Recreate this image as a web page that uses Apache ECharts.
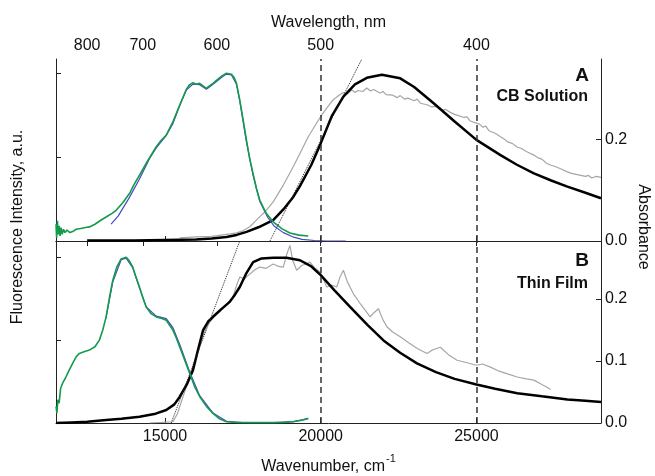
<!DOCTYPE html>
<html>
<head>
<meta charset="utf-8">
<title>Fluorescence and absorbance</title>
<script src="https://cdn.jsdelivr.net/npm/echarts@6/dist/echarts.min.js"></script>
<style>
  html, body { margin: 0; padding: 0; background: #fff; }
  #main { width: 655px; height: 476px; }
</style>
</head>
<body>
<div id="main"></div>
<script>
// wavenumber range and tick values
var wnMin = 11500, wnMax = 29000;
var wnTicks = [15000, 20000, 25000];
var nmTicks = [800, 700, 600, 500, 400];
var dashX = [20000, 25000];

// panel A: CB solution  ([wavenumber, value])
var greenA = [[11500,0.10],[11520,0.02],[11545,0.12],[11570,0.04],[11600,0.09],[11630,0.03],[11660,0.08],[11700,0.04],[11740,0.07],[11790,0.05],[11850,0.065],[11950,0.05],[12034,0.056],[12150,0.07],[12300,0.075],[12450,0.08],[12571,0.084],[12750,0.10],[12950,0.125],[13109,0.143],[13300,0.165],[13431,0.183],[13650,0.23],[13859,0.283],[14000,0.335],[14181,0.392],[14450,0.48],[14719,0.562],[14880,0.60],[15041,0.631],[15254,0.711],[15450,0.80],[15685,0.904],[15780,0.93],[15898,0.944],[16000,0.935],[16113,0.940],[16220,0.925],[16329,0.910],[16430,0.925],[16542,0.940],[16700,0.965],[16832,0.984],[16973,1.0],[17134,0.994],[17220,0.975],[17295,0.940],[17401,0.84],[17510,0.72],[17617,0.60],[17720,0.49],[17830,0.40],[17940,0.31],[18045,0.243],[18250,0.165],[18474,0.114],[18750,0.074],[19011,0.048],[19300,0.035],[19600,0.030]];
var blueA = [[13270,0.10],[13500,0.15],[13859,0.26],[14181,0.37],[14500,0.49],[14719,0.555],[15041,0.63],[15254,0.70],[15500,0.82],[15685,0.90],[15898,0.935],[16113,0.932],[16329,0.905],[16542,0.935],[16832,0.978],[16973,0.995],[17134,0.99],[17295,0.935],[17401,0.835],[17617,0.59],[17830,0.39],[18045,0.235],[18300,0.14],[18500,0.09],[18800,0.05],[19100,0.025],[19400,0.01],[19800,0.003],[20200,0.0],[20800,0.0]];
var blackA = [[12500,0.001],[14000,0.001],[15000,0.002],[16000,0.003],[16500,0.005],[16973,0.008],[17300,0.012],[17617,0.018],[18000,0.027],[18474,0.041],[18800,0.062],[19100,0.085],[19333,0.108],[19700,0.15],[20000,0.192],[20350,0.245],[20728,0.284],[21100,0.308],[21481,0.321],[21964,0.327],[22553,0.320],[23000,0.303],[23626,0.271],[24300,0.235],[25000,0.199],[25773,0.169],[26300,0.150],[26846,0.133],[27400,0.119],[27921,0.107],[28500,0.095],[29000,0.084]];
var grayA = [[15470,0.006],[16000,0.008],[16500,0.009],[16854,0.012],[17100,0.014],[17300,0.016],[17500,0.02],[17724,0.028],[18000,0.045],[18250,0.06],[18474,0.077],[18800,0.11],[19118,0.146],[19333,0.172],[19600,0.205],[19871,0.232],[20000,0.245],[20200,0.262],[20406,0.278],[20600,0.287],[20728,0.292],[20850,0.289],[21000,0.297],[21100,0.292],[21200,0.296],[21350,0.294],[21481,0.301],[21600,0.295],[21700,0.298],[21900,0.291],[22000,0.294],[22100,0.288],[22300,0.287],[22450,0.282],[22553,0.286],[22700,0.279],[22800,0.281],[23000,0.276],[23100,0.279],[23200,0.271],[23413,0.268],[23550,0.264],[23700,0.265],[23900,0.257],[24000,0.259],[24163,0.253],[24300,0.249],[24400,0.247],[24600,0.243],[24700,0.244],[24800,0.236],[25000,0.232],[25100,0.230],[25200,0.224],[25300,0.226],[25400,0.217],[25600,0.212],[25773,0.205],[25900,0.200],[26000,0.195],[26150,0.192],[26300,0.185],[26450,0.182],[26600,0.176],[26846,0.169],[27000,0.163],[27100,0.161],[27250,0.153],[27400,0.149],[27550,0.146],[27700,0.142],[27921,0.136],[28050,0.133],[28200,0.131],[28350,0.129],[28500,0.127],[28600,0.129],[28700,0.124],[28850,0.127],[29000,0.125]];
var tangentA = [[18370,0],[21320,0.358]];

// panel B: thin film
var greenB = [[11500,0.10],[11530,0.06],[11560,0.14],[11600,0.12],[11650,0.21],[11712,0.24],[11800,0.27],[11900,0.31],[12034,0.36],[12150,0.40],[12249,0.42],[12400,0.43],[12571,0.44],[12750,0.46],[12893,0.50],[13000,0.56],[13109,0.64],[13220,0.76],[13322,0.86],[13450,0.94],[13592,0.99],[13680,0.995],[13753,1.0],[13850,0.98],[13966,0.94],[14070,0.88],[14181,0.82],[14300,0.75],[14397,0.70],[14550,0.66],[14719,0.64],[14900,0.63],[15041,0.62],[15150,0.59],[15254,0.56],[15370,0.51],[15470,0.46],[15630,0.38],[15791,0.30],[15950,0.22],[16113,0.16],[16330,0.10],[16542,0.058],[16750,0.025],[16973,0.008],[17300,0.003],[17800,0.002],[18474,0.002],[18800,0.004],[19118,0.008],[19400,0.017],[19600,0.028]];
var blueB = [[13100,0.63],[13322,0.85],[13592,0.985],[13753,0.995],[13966,0.935],[14181,0.815],[14397,0.70],[14719,0.645],[15041,0.63],[15254,0.575],[15470,0.475],[15791,0.31],[16113,0.165],[16542,0.06],[16973,0.01],[17500,0.002],[18474,0.002],[19118,0.008],[19600,0.027]];
var blackB = [[11500,0.0],[12000,0.001],[12500,0.002],[13109,0.005],[13600,0.007],[14181,0.010],[14700,0.015],[15041,0.021],[15300,0.030],[15470,0.042],[15700,0.062],[15898,0.085],[16060,0.118],[16220,0.149],[16380,0.163],[16542,0.171],[16800,0.183],[17079,0.195],[17250,0.207],[17401,0.219],[17600,0.24],[17830,0.259],[18100,0.265],[18474,0.266],[18900,0.266],[19333,0.262],[19700,0.252],[20000,0.238],[20450,0.213],[20943,0.187],[21500,0.158],[22016,0.133],[22550,0.113],[23091,0.096],[23700,0.082],[24300,0.071],[25000,0.062],[25600,0.055],[26311,0.048],[27100,0.043],[27921,0.038],[28500,0.036],[29000,0.034]];
var grayB = [[14503,0.0],[14900,0.001],[15254,0.002],[15400,0.015],[15576,0.042],[15800,0.075],[16007,0.106],[16170,0.132],[16329,0.155],[16550,0.170],[16757,0.179],[16950,0.19],[17186,0.203],[17300,0.222],[17401,0.235],[17550,0.232],[17724,0.240],[17900,0.247],[18045,0.251],[18250,0.249],[18474,0.256],[18650,0.252],[18800,0.251],[18900,0.27],[19011,0.286],[19100,0.262],[19227,0.246],[19400,0.254],[19549,0.256],[19655,0.259],[19800,0.25],[19977,0.243],[20100,0.23],[20193,0.219],[20350,0.222],[20515,0.219],[20620,0.235],[20728,0.246],[20850,0.228],[21050,0.208],[21300,0.19],[21587,0.171],[21720,0.178],[21855,0.184],[22000,0.166],[22125,0.155],[22300,0.147],[22553,0.139],[22800,0.13],[23100,0.12],[23413,0.112],[23600,0.118],[23842,0.122],[24100,0.11],[24379,0.101],[24700,0.097],[25000,0.093],[25200,0.095],[25451,0.090],[25700,0.084],[26000,0.079],[26311,0.074],[26600,0.071],[26846,0.069],[27100,0.062],[27250,0.058],[27384,0.054]];
var tangentB = [[15200,0],[17401,0.293]];

var font = "'Liberation Sans', Arial, sans-serif";
var axisColor = '#222';

var myChart = echarts.init(document.getElementById('main'));

function yAx(grid, pos, max, labelVals, tickVals, showLabel) {
  return {
    type: 'value', gridIndex: grid, position: pos, min: 0, max: max,
    splitLine: { show: false },
    axisLine: { show: true, lineStyle: { color: axisColor, width: 1 } },
    axisTick: { show: true, inside: true, length: 5, customValues: tickVals, lineStyle: { color: axisColor } },
    axisLabel: {
      show: showLabel, customValues: labelVals, margin: 4,
      color: '#111', fontSize: 16, fontFamily: font,
      formatter: function (v) { return v.toFixed(1); }
    }
  };
}

function line(name, data, xi, yi, color, width, z, type) {
  return {
    name: name, type: 'line', data: data, xAxisIndex: xi, yAxisIndex: yi,
    showSymbol: false, symbol: 'none', z: z, silent: true,
    lineStyle: { color: color, width: width, type: type || 'solid' }
  };
}

function dashes() {
  return {
    silent: true, symbol: ['none', 'none'], label: { show: false },
    lineStyle: { color: '#333', width: 1.5, type: [6, 4] },
    data: dashX.map(function (v) { return { xAxis: v }; })
  };
}

var labelStyle = { fill: '#111', fontFamily: font, fontWeight: 'bold', align: 'right', verticalAlign: 'middle' };

var option = {
  backgroundColor: '#fff',
  animation: false,
  grid: [
    { left: 56, right: 54, top: 59, height: 182 },
    { left: 56, right: 54, top: 241, height: 182 }
  ],
  xAxis: [
    { // wavelength, top
      type: 'value', gridIndex: 0, position: 'top', min: wnMin, max: wnMax,
      name: 'Wavelength, nm', nameLocation: 'middle', nameGap: 28,
      nameTextStyle: { color: '#111', fontSize: 16, fontFamily: font },
      splitLine: { show: false },
      axisLine: { lineStyle: { color: axisColor, width: 1 } },
      axisTick: { inside: true, length: 5, customValues: nmTicks.map(function (n) { return 1e7 / n; }), lineStyle: { color: axisColor } },
      axisLabel: {
        customValues: nmTicks.map(function (n) { return 1e7 / n; }), margin: 5,
        color: '#111', fontSize: 16, fontFamily: font,
        formatter: function (v) { return String(Math.round(1e7 / v)); }
      }
    },
    { // divider line
      type: 'value', gridIndex: 0, position: 'bottom', min: wnMin, max: wnMax,
      splitLine: { show: false },
      axisLine: { lineStyle: { color: axisColor, width: 1 } },
      axisTick: { inside: true, length: 5, customValues: wnTicks, lineStyle: { color: axisColor } },
      axisLabel: { show: false }
    },
    { // wavenumber, bottom
      type: 'value', gridIndex: 1, position: 'bottom', min: wnMin, max: wnMax,
      name: '{a|Wavenumber, cm}{s|-1}', nameLocation: 'middle', nameGap: 30,
      nameTextStyle: {
        rich: {
          a: { color: '#111', fontSize: 16, fontFamily: font, verticalAlign: 'bottom', lineHeight: 22 },
          s: { color: '#111', fontSize: 11, fontFamily: font, verticalAlign: 'top', lineHeight: 22, padding: [0, 0, 10, 1] }
        }
      },
      splitLine: { show: false },
      axisLine: { lineStyle: { color: axisColor, width: 1 } },
      axisTick: { inside: true, length: 5, customValues: wnTicks, lineStyle: { color: axisColor } },
      axisLabel: {
        customValues: wnTicks, margin: 6, color: '#111', fontSize: 16, fontFamily: font,
        formatter: function (v) { return String(v); }
      }
    }
  ],
  yAxis: [
    yAx(0, 'left', 1.085, [], [0.5, 1.0], false),
    yAx(0, 'right', 0.358, [0, 0.2], [0.2], true),
    yAx(1, 'left', 1.098, [], [0.5, 1.0], false),
    yAx(1, 'right', 0.293, [0, 0.1, 0.2], [0.1, 0.2], true)
  ],
  graphic: [
    { type: 'text', x: 18, y: 227, rotation: Math.PI / 2, style: { text: 'Fluorescence Intensity, a.u.', fill: '#111', fontSize: 16, fontFamily: font, align: 'center', verticalAlign: 'middle' } },
    { type: 'text', x: 643, y: 227, rotation: -Math.PI / 2, style: { text: 'Absorbance', fill: '#111', fontSize: 16, fontFamily: font, align: 'center', verticalAlign: 'middle' } },
    { type: 'text', x: 589, y: 76, style: Object.assign({ text: 'A', fontSize: 19 }, labelStyle) },
    { type: 'text', x: 588, y: 97, style: Object.assign({ text: 'CB Solution', fontSize: 16 }, labelStyle) },
    { type: 'text', x: 589, y: 261, style: Object.assign({ text: 'B', fontSize: 19 }, labelStyle) },
    { type: 'text', x: 588, y: 284, style: Object.assign({ text: 'Thin Film', fontSize: 16 }, labelStyle) }
  ],
  series: [
    line('grayA', grayA, 0, 1, '#a6a6a6', 1.2, 2),
    Object.assign(line('blackA', blackA, 0, 1, '#000', 2.5, 3), { markLine: dashes() }),
    line('blueA', blueA, 0, 0, '#4848c0', 1.2, 4),
    line('greenA', greenA, 0, 0, '#139a4c', 1.6, 5),
    line('tangentA', tangentA, 0, 1, '#222', 1, 6, 'dotted'),
    line('grayB', grayB, 2, 3, '#a6a6a6', 1.2, 2),
    Object.assign(line('blackB', blackB, 2, 3, '#000', 2.5, 3), { markLine: dashes() }),
    line('blueB', blueB, 2, 2, '#4848c0', 1.2, 4),
    line('greenB', greenB, 2, 2, '#139a4c', 1.6, 5),
    line('tangentB', tangentB, 2, 3, '#222', 1, 6, 'dotted')
  ]
};
myChart.setOption(option);
</script>
</body>
</html>
